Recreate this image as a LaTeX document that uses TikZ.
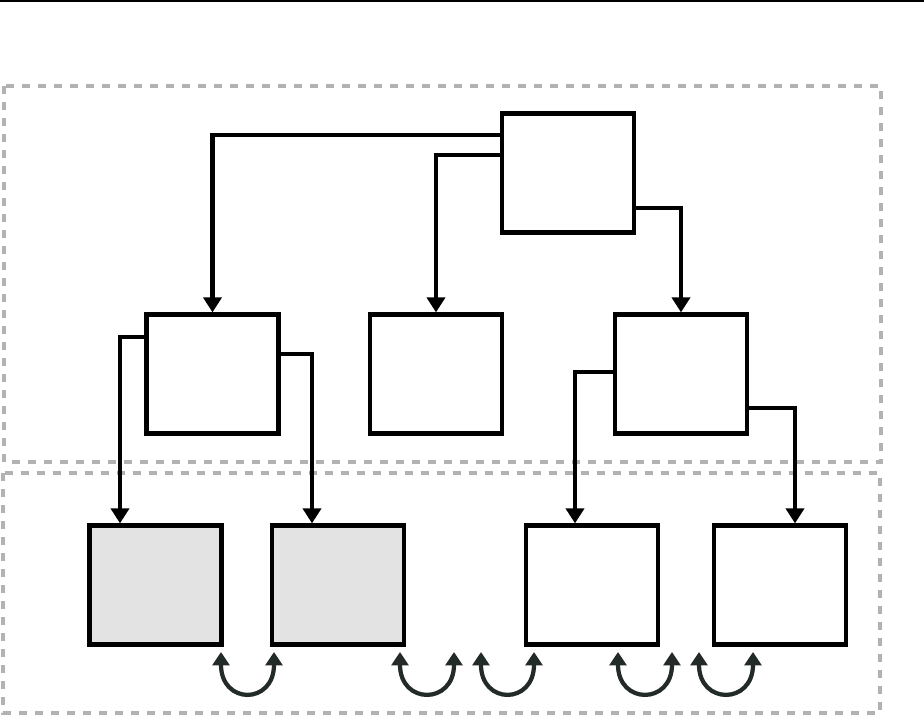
\documentclass[tikz,border=0pt]{standalone}
\usepackage{tikz}
\usetikzlibrary{arrows.meta,positioning,calc}

\definecolor{swapgray}{RGB}{35,43,41}

\begin{document}
\begin{tikzpicture}[
    x=0.02cm, y=-0.02cm,
    box/.style={draw, line width=0.085cm, minimum width=2.64cm, minimum height=2.38cm, inner sep=0pt},
    leaf/.style={box, fill=black!11},
    arr/.style={-{Triangle[length=0.3cm, width=0.36cm]}, line width=0.085cm},
    swap/.style={{Triangle[length=0.27cm, width=0.34cm]}-{Triangle[length=0.27cm, width=0.34cm]}, line width=0.085cm, draw=swapgray},
    zone/.style={draw=black!30, line width=0.07cm, dash pattern=on 0.16cm off 0.16cm},
  ]
  \useasboundingbox (0,0) rectangle (924,715);
  \draw[line width=0.04cm] (0,1) -- (924,1);

  \draw[zone] (4,86) rectangle (881,462);
  \draw[zone] (3,473) rectangle (880,713);

  \node[box] (root) at (568, 173) {};
  \node[box] (midL) at (212.5, 374) {};
  \node[box] (midC) at (436, 374) {};
  \node[box] (midR) at (681, 374) {};
  \node[leaf] (botA) at (155.5, 585) {};
  \node[leaf] (botB) at (338, 585) {};
  \node[box] (botC) at (592, 585) {};
  \node[box] (botD) at (780, 585) {};

  \draw[arr] ([yshift=0.76cm]root.west) -| (midL);
  \draw[arr] ([yshift=0.36cm]root.west) -| (midC);
  \draw[arr] ([yshift=-0.7cm]root.east) -| (midR);
  \draw[arr] ([yshift=0.74cm]midL.west) -| ([xshift=-0.71cm]botA.north);
  \draw[arr] ([yshift=0.4cm]midL.east) -| ([xshift=-0.52cm]botB.north);
  \draw[arr] ([yshift=0.04cm]midR.west) -| ([xshift=-0.34cm]botC.north);
  \draw[arr] ([yshift=-0.68cm]midR.east) -| ([xshift=0.3cm]botD.north);

  \coordinate (loopAl) at (221, 652);
  \coordinate (loopAr) at (274, 652);
  \coordinate (loopBl) at (400, 652);
  \coordinate (loopBr) at (454, 652);
  \coordinate (loopCl) at (481, 652);
  \coordinate (loopCr) at (534, 652);
  \coordinate (loopDl) at (618, 652);
  \coordinate (loopDr) at (672, 652);
  \coordinate (loopEl) at (699, 652);
  \coordinate (loopEr) at (753, 652);

  \foreach \l in {A,B,C,D,E}
    \draw[swap] (loop\l l) .. controls +(0,53) and +(0,53) .. (loop\l r);
\end{tikzpicture}
\end{document}
